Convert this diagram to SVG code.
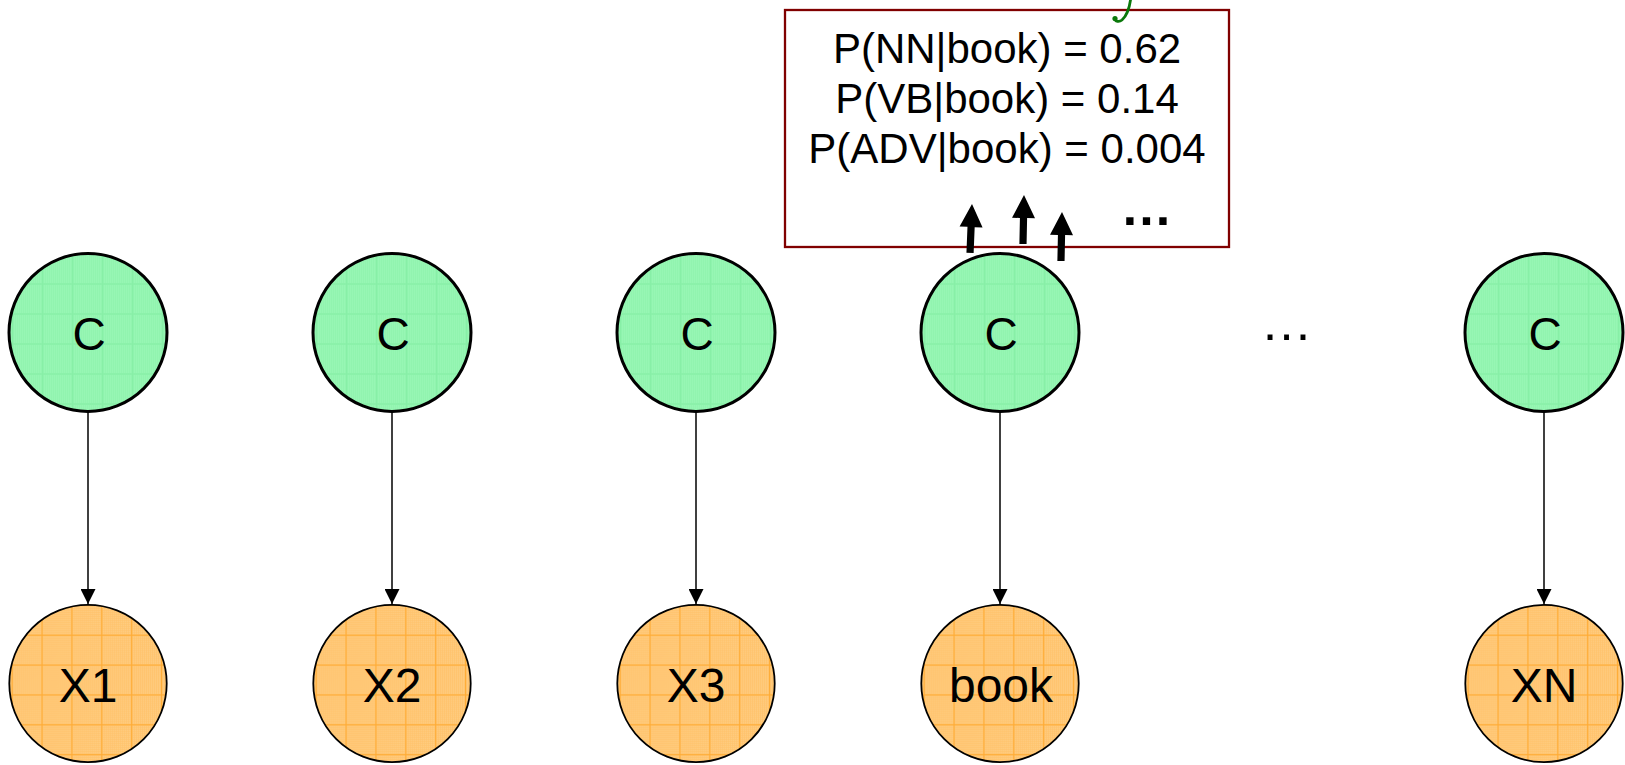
<svg xmlns="http://www.w3.org/2000/svg" xmlns:xlink="http://www.w3.org/1999/xlink" width="1625" height="765" viewBox="0 0 1625 765">
  <style>
    text { font-family: "Liberation Sans", Arial, sans-serif; fill: #000; }
    .cnode { fill: url(#gridGreen); stroke: #000; stroke-width: 3; }
    .xnode { fill: url(#gridOrange); stroke: #000; stroke-width: 1.8; }
    .clabel { font-size: 46px; text-anchor: middle; }
    .xlabel { font-size: 48px; text-anchor: middle; }
    .edge { stroke: #000; stroke-width: 1.5; fill: none; marker-end: url(#arrowHead); }
    .prob { font-size: 42px; text-anchor: middle; }
    .big-arrow { fill: #000; }
  </style>
  <defs>
    <!-- fine dither of the node fills -->
    <pattern id="ditherGreen" patternUnits="userSpaceOnUse" width="2" height="2">
      <rect width="2" height="2" fill="#8ef4ad"/>
      <rect width="1" height="1" fill="#a6f9c0"/>
    </pattern>
    <pattern id="ditherOrange" patternUnits="userSpaceOnUse" width="2" height="2">
      <rect width="2" height="2" fill="#ffc26a"/>
      <rect width="1" height="1" fill="#ffd38f"/>
    </pattern>
    <!-- 30px grid laid over each circle -->
    <pattern id="gridGreen" patternUnits="objectBoundingBox" x="0.02" y="0" width="0.18987" height="0.18987">
      <rect width="30" height="30" fill="url(#ditherGreen)"/>
      <path d="M0.5,0 V30 M0,0.5 H30" stroke="#87eea6" stroke-width="1"/>
    </pattern>
    <pattern id="gridOrange" patternUnits="objectBoundingBox" x="0.015" y="0" width="0.18987" height="0.18987">
      <rect width="30" height="30" fill="url(#ditherOrange)"/>
      <path d="M0.5,0 V30 M0,0.5 H30" stroke="#ffab33" stroke-width="1"/>
    </pattern>
    <marker id="arrowHead" markerUnits="userSpaceOnUse" markerWidth="15" markerHeight="15" viewBox="0 0 15 15" refX="15" refY="7.5" orient="auto">
      <path d="M0,0 L15,7.5 L0,15 Z" fill="#000"/>
    </marker>
    <!-- thick upward arrow, tip at the origin -->
    <path id="bigArrow" d="M0,0 L11.5,23 L3.6,23 L3.6,49 L-3.6,49 L-3.6,23 L-11.5,23 Z"/>
  </defs>

  <rect width="1625" height="765" fill="#fff"/>

  <!-- distribution box over the "book" class node -->
  <g id="prob-box">
    <rect x="785" y="10" width="444" height="237" fill="#fff" stroke="#800000" stroke-width="2.3"/>
    <text class="prob" x="1007" y="62.5">P(NN|book) = 0.62</text>
    <text class="prob" x="1007" y="112.5">P(VB|book) = 0.14</text>
    <text class="prob" x="1007" y="163">P(ADV|book) = 0.004</text>
    <text x="1146.5" y="225" font-size="52" font-weight="bold" text-anchor="middle">…</text>
  </g>

  <!-- green pen stroke at the top edge -->
  <g id="pen-mark">
    <path d="M1130.5,0 C1129.5,7 1127.5,15 1122,20 C1119,22.5 1115.5,21.5 1114.5,19" fill="none" stroke="#0b780b" stroke-width="2.8" stroke-linecap="round"/>
    <circle cx="1115" cy="18.5" r="2.6" fill="#0b780b"/>
  </g>

  <!-- class nodes -->
  <g id="c1"><circle class="cnode" cx="88" cy="332.5" r="79"/><text class="clabel" x="89" y="350">C</text></g>
  <g id="c2"><circle class="cnode" cx="392" cy="332.5" r="79"/><text class="clabel" x="393" y="350">C</text></g>
  <g id="c3"><circle class="cnode" cx="696" cy="332.5" r="79"/><text class="clabel" x="697" y="350">C</text></g>
  <g id="c4"><circle class="cnode" cx="1000" cy="332.5" r="79"/><text class="clabel" x="1001" y="350">C</text></g>
  <g id="cN"><circle class="cnode" cx="1544" cy="332.5" r="79"/><text class="clabel" x="1545" y="350">C</text></g>

  <g id="gap-dots"><text x="1286.5" y="340" font-size="52" text-anchor="middle">…</text></g>

  <!-- observed word nodes -->
  <g id="x1"><circle class="xnode" cx="88" cy="683.5" r="78.7"/><text class="xlabel" x="88" y="702">X1</text></g>
  <g id="x2"><circle class="xnode" cx="392" cy="683.5" r="78.7"/><text class="xlabel" x="392" y="702">X2</text></g>
  <g id="x3"><circle class="xnode" cx="696" cy="683.5" r="78.7"/><text class="xlabel" x="696" y="702">X3</text></g>
  <g id="x4"><circle class="xnode" cx="1000" cy="683.5" r="78.7"/><text class="xlabel" x="1001" y="702">book</text></g>
  <g id="xN"><circle class="xnode" cx="1544" cy="683.5" r="78.7"/><text class="xlabel" x="1544" y="702">XN</text></g>

  <g id="connectors">
    <line class="edge" x1="88" y1="413" x2="88" y2="604"/>
    <line class="edge" x1="392" y1="413" x2="392" y2="604"/>
    <line class="edge" x1="696" y1="413" x2="696" y2="604"/>
    <line class="edge" x1="1000" y1="413" x2="1000" y2="604"/>
    <line class="edge" x1="1544" y1="413" x2="1544" y2="604"/>
    <use href="#bigArrow" xlink:href="#bigArrow" class="big-arrow" transform="translate(972,204) rotate(2.3)"/>
    <use href="#bigArrow" xlink:href="#bigArrow" class="big-arrow" transform="translate(1024,195) rotate(1.2)"/>
    <use href="#bigArrow" xlink:href="#bigArrow" class="big-arrow" transform="translate(1062,212) rotate(1.2)"/>
  </g>
</svg>
